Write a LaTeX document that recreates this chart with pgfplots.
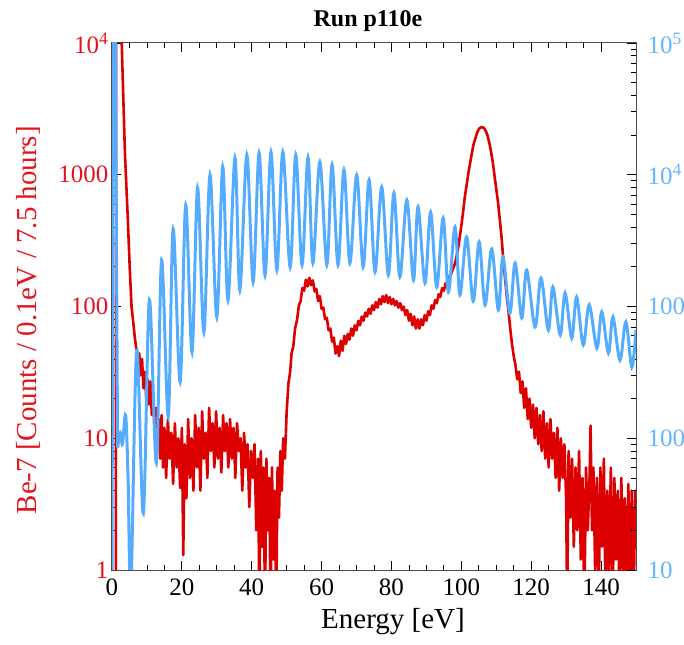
\documentclass[border=0pt]{standalone}
\usepackage{fontspec}
\setmainfont{Liberation Serif}
\usepackage{pgfplots}
\pgfplotsset{compat=1.18}

\definecolor{redline}{RGB}{220,0,0}
\definecolor{blueline}{RGB}{85,172,255}
\definecolor{redtext}{RGB}{228,20,30}
\definecolor{bluetext}{RGB}{100,182,255}

\pgfplotsset{
  every axis/.append style={
    width=524bp, height=527bp, scale only axis,
    xmin=0, xmax=150,
    tick align=inside,
    major tick length=9bp, minor tick length=5bp,
    tick style={black, line width=0.8bp},
    axis line style={black!70, line width=1bp},
    tick label style={font=\fontsize{25bp}{29bp}\selectfont},
    label style={font=\fontsize{29bp}{33bp}\selectfont},
    /pgf/number format/assume math mode=true,
  },
}

\begin{document}
\begin{tikzpicture}

\begin{axis}[
  ymode=log, ymin=1, ymax=1e4,
  xtick={0,20,...,140}, minor x tick num=3,
  xtick pos=both, xticklabel pos=lower,
  xticklabel style={yshift=-5bp},
  ytick={1,10,100,1000,10000},
  yticklabels={1,10,100,1000,10\textsuperscript{4}},
  minor ytick={2,3,4,5,6,7,8,9,20,30,40,50,60,70,80,90,200,300,400,500,600,700,800,900,2000,3000,4000,5000,6000,7000,8000,9000},
  ytick pos=left,
  yticklabel style={text=redtext},
  xlabel={Energy [eV]},
  xlabel style={xshift=19bp, yshift=-6bp},
  ylabel={Be-7 [Counts / 0.1eV / 7.5 hours]},
  ylabel style={text=redtext, at={(axis description cs:-0.160,0.474)}, anchor=center},
  title={Run p110e},
  title style={font=\fontsize{24bp}{28bp}\selectfont\bfseries, yshift=2bp, xshift=-6bp},
]
\addplot[redline, line width=2.6bp, line join=round] table[row sep=crcr] {%
0 0.5\\ 1.1 0.5\\ 1.2 30000\\ 2.6 30000\\ 2.8 9600\\ 3.7 1460\\ 4.5 480\\ 5.1 190\\
5.6 100\\ 6.1 75\\ 6.6 56\\ 7.0 47\\ 7.4 35\\ 7.8 44\\ 8.2 30\\ 8.6 40\\
9.0 24\\ 9.4 32\\ 9.8 20\\ 10.2 28\\ 10.6 18\\ 11.0 27\\ 11.4 15\\ 11.8 22\\
12.2 11\\ 12.6 17\\ 13.0 9\\ 13.4 14\\ 13.8 7\\ 14.2 15\\ 14.6 6\\ 15.0 12\\
15.5 5\\ 16.0 14\\ 16.5 7\\ 17.0 11\\ 17.5 4.5\\ 18.0 13\\ 18.5 6\\ 19.0 10\\
19.5 4.2\\ 20.0 12\\ 20.4 1.3\\ 20.8 9\\ 21.3 3.5\\ 21.8 14\\ 22.3 5\\ 22.8 10\\
23.3 4\\ 23.8 15\\ 24.3 6\\ 24.8 12\\ 25.3 4\\ 25.8 16\\ 26.3 7\\ 26.8 11\\
27.3 5\\ 27.8 17\\ 28.3 8\\ 28.8 13\\ 29.3 6\\ 29.8 16\\ 30.3 7\\ 30.8 12\\
31.3 5.5\\ 31.8 15\\ 32.3 8\\ 32.8 13\\ 33.3 6\\ 33.8 14\\ 34.3 7\\ 34.8 12\\
35.3 5\\ 35.8 13\\ 36.3 8\\ 36.8 10\\ 37.3 4\\ 37.8 11\\ 38.3 6\\ 38.8 9\\
39.3 3\\ 39.8 8\\ 40.3 5\\ 40.8 9\\ 41.3 2\\ 41.8 7\\ 42.2 0.5\\ 42.6 8\\
43.0 1.5\\ 43.4 6\\ 43.8 0.5\\ 44.2 7\\ 44.6 2\\ 45.0 5\\ 45.4 0.5\\ 45.8 6\\
46.2 1.2\\ 46.6 4\\ 47.0 0.5\\ 47.4 6\\ 47.8 2.5\\ 48.2 8\\ 48.6 4\\ 49.0 10\\
49.5 7\\ 50.0 16\\ 50.5 26\\ 51.0 32\\ 51.4 44\\ 51.9 50\\ 52.4 68\\ 53.0 80\\
53.5 102\\ 54.0 110\\ 54.5 138\\ 55.0 132\\ 55.5 160\\ 56.0 142\\ 56.5 165\\ 57.0 145\\
57.5 158\\ 58.0 130\\ 58.5 136\\ 59.0 110\\ 59.5 120\\ 60.0 96\\ 60.5 98\\ 61.0 80\\
61.5 82\\ 62.0 66\\ 62.5 68\\ 63.0 54\\ 63.5 58\\ 64.0 44\\ 64.5 50\\ 65.0 42\\
65.5 55\\ 66.0 46\\ 66.5 60\\ 67.0 52\\ 67.5 62\\ 68.0 56\\ 68.5 68\\ 69.0 60\\
69.5 72\\ 70.0 66\\ 70.5 78\\ 71.0 72\\ 71.5 84\\ 72.0 78\\ 72.5 90\\ 73.0 84\\
73.5 96\\ 74.0 88\\ 74.5 102\\ 75.0 94\\ 75.5 108\\ 76.0 98\\ 76.5 114\\ 77.0 104\\
77.5 120\\ 78.0 108\\ 78.5 122\\ 79.0 106\\ 79.5 118\\ 80.0 104\\ 80.5 114\\ 81.0 102\\
81.5 110\\ 82.0 98\\ 82.5 106\\ 83.0 94\\ 83.5 100\\ 84.0 86\\ 84.5 94\\ 85.0 78\\
85.5 88\\ 86.0 72\\ 86.5 84\\ 87.0 68\\ 87.5 80\\ 88.0 68\\ 88.5 80\\ 89.0 72\\
89.5 86\\ 90.0 78\\ 90.5 92\\ 91.0 86\\ 91.5 102\\ 92.0 96\\ 92.5 112\\ 93.0 106\\
93.5 124\\ 94.0 118\\ 94.5 138\\ 95.0 132\\ 95.5 150\\ 96.0 146\\ 96.5 168\\ 97.0 175\\
97.5 190\\ 98.0 205\\ 98.5 230\\ 99.0 270\\ 99.5 330\\ 100.0 410\\ 100.5 520\\ 101.0 680\\
101.5 830\\ 102.0 1020\\ 102.5 1220\\ 103.0 1450\\ 103.5 1700\\ 104.0 1880\\ 104.5 2080\\ 105.0 2220\\
105.5 2280\\ 106.0 2300\\ 106.5 2260\\ 107.0 2150\\ 107.5 1980\\ 108.0 1750\\ 108.5 1500\\ 109.0 1250\\
109.5 980\\ 110.0 780\\ 110.5 620\\ 111.0 460\\ 111.5 340\\ 112.0 230\\ 112.5 165\\ 113.0 120\\
113.5 92\\ 114.0 68\\ 114.5 52\\ 115.0 42\\ 115.5 36\\ 116.0 28\\ 116.5 32\\ 117.0 22\\
117.5 27\\ 118.0 17\\ 118.5 24\\ 119.0 14\\ 119.5 20\\ 120.0 12\\ 120.5 18\\ 121.0 10\\
121.5 17\\ 122.0 9\\ 122.5 15\\ 123.0 8\\ 123.5 16\\ 124.0 7\\ 124.5 13\\ 125.0 6\\
125.5 14\\ 126.0 7\\ 126.5 11\\ 127.0 5\\ 127.5 12\\ 128.0 4\\ 128.5 10\\ 129.0 5\\
129.5 9\\ 130.0 3.5\\ 130.3 0.5\\ 130.7 8\\ 131.2 2.5\\ 131.7 7\\ 132.2 1.5\\ 132.7 6\\
133.2 2\\ 133.7 8\\ 134.2 1.2\\ 134.7 5\\ 135.2 0.5\\ 135.7 6\\ 136.2 2\\ 136.7 5\\
137.0 12.5\\ 137.4 2\\ 137.8 6\\ 138.3 1\\ 138.8 5\\ 139.3 0.5\\ 139.8 6\\ 140.3 1.5\\
140.8 7\\ 141.3 0.5\\ 141.8 4\\ 142.3 1\\ 142.8 6\\ 143.3 0.5\\ 143.8 5\\ 144.3 1.2\\
144.8 4\\ 145.3 0.5\\ 145.8 5\\ 146.3 1\\ 146.8 3.5\\ 147.3 0.5\\ 147.8 4.5\\ 148.3 1\\
148.8 4\\ 149.3 0.5\\ 149.8 4\\ 150 2\\
};
\end{axis}

\begin{axis}[
  ymode=log, ymin=10, ymax=1e5,
  axis x line=none, axis y line*=right,
  ytick={10,100,1000,10000,100000},
  yticklabels={10,100,1000,10\textsuperscript{4},10\textsuperscript{5}},
  minor ytick={20,30,40,50,60,70,80,90,200,300,400,500,600,700,800,900,2000,3000,4000,5000,6000,7000,8000,9000,20000,30000,40000,50000,60000,70000,80000,90000},
  yticklabel style={text=bluetext, xshift=8bp},
]
\addplot[blueline, line width=3bp, line join=round] table[row sep=crcr] {%
0 5\\ 0.3 200000\\ 0.9 200000\\ 1.6 85\\
};
\addplot[blueline, line width=3bp, smooth, tension=0.55] table[row sep=crcr] {%
1.6 85\\ 2.4 110\\ 3.0 90\\ 3.9 150\\ 4.6 50\\ 5.4 7\\
7.07 467\\ 8.97 27\\ 10.7 1120\\ 12.7 65\\ 14.2 2250\\ 16.1 146\\
17.5 3870\\ 19.5 268\\ 21.1 5890\\ 22.9 452\\ 24.5 7940\\ 26.3 640\\
28.05 10000\\ 30.0 832\\ 31.7 11500\\ 33.2 1120\\ 35.2 13400\\ 36.6 1335\\
38.6 14100\\ 40.4 1535\\ 42.1 14600\\ 43.8 1730\\ 45.5 14900\\ 47.2 1890\\
48.9 14900\\ 51.0 1990\\ 52.6 14100\\ 54.4 2070\\ 56.1 13600\\ 57.5 2140\\
59.5 12500\\ 61.5 2070\\ 63.0 11900\\ 64.7 2070\\ 66.4 10870\\ 68.1 2140\\
70.05 9950\\ 71.9 1995\\ 73.6 9120\\ 75.3 1830\\ 77.2 8070\\ 79.1 1735\\
80.7 7270\\ 82.4 1675\\ 84.4 6430\\ 86.3 1590\\ 87.6 5690\\ 89.6 1508\\
91.2 5210\\ 92.95 1406\\ 94.8 4700\\ 96.3 1290\\ 98.2 4010\\ 99.6 1223\\
101.5 3370\\ 103.4 1100\\ 105.1 3090\\ 106.8 1027\\ 108.7 2730\\ 110.6 940\\
111.9 2375\\ 113.9 893\\ 115.4 2140\\ 117.3 818\\ 118.7 1890\\ 121.1 699\\
122.8 1644\\ 124.9 663\\ 126.2 1406\\ 128.3 608\\ 129.7 1265\\ 131.6 577\\
133.0 1180\\ 134.9 511\\ 136.6 1026\\ 138.8 484\\ 140.2 908\\ 142.1 444\\
143.4 832\\ 145.4 392\\ 147.1 762\\ 148.8 347\\ 150 663\\
};
\end{axis}

\pgfresetboundingbox
\path[use as bounding box] (-112bp,-75bp) rectangle (572bp,570bp);
\end{tikzpicture}
\end{document}
